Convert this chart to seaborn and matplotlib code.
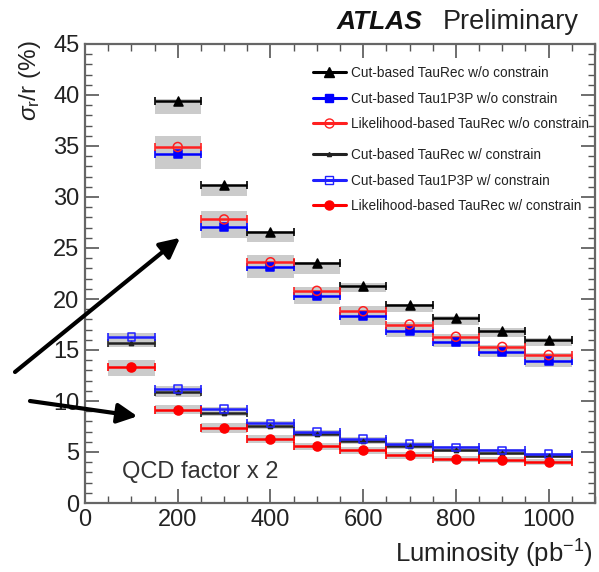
import numpy as np
import pandas as pd
import matplotlib
matplotlib.use("Agg")
import matplotlib.pyplot as plt
from matplotlib.lines import Line2D
from matplotlib.ticker import MultipleLocator
import seaborn as sns

# ---- data -------------------------------------------------------------
lumi_wo = [200, 300, 400, 500, 600, 700, 800, 900, 1000]
lumi_w = [100, 200, 300, 400, 500, 600, 700, 800, 900, 1000]
bin_half_width = 50

# without constraint
cut_taurec_wo = [39.4, 31.2, 26.6, 23.5, 21.3, 19.4, 18.1, 16.9, 16.0]
cut_tau1p3p_wo = [34.2, 27.1, 23.1, 20.3, 18.3, 16.9, 15.8, 14.8, 13.9]
lh_taurec_wo = [34.9, 27.8, 23.6, 20.8, 18.8, 17.5, 16.3, 15.3, 14.5]

# with constraint
cut_taurec_w = [15.7, 10.9, 8.8, 7.55, 6.75, 6.05, 5.55, 5.2, 4.95, 4.65]
cut_tau1p3p_w = [16.3, 11.2, 9.2, 7.8, 7.0, 6.3, 5.8, 5.45, 5.15, 4.8]
lh_taurec_w = [13.3, 9.1, 7.4, 6.3, 5.6, 5.2, 4.7, 4.3, 4.25, 4.0]

# systematic bands (low, high)
band_cut_taurec_wo_lo = [38.1, 30.1, 25.6, 22.5, 20.7, 18.7, 17.5, 16.3, 15.4]
band_cut_taurec_wo_hi = [39.6, 31.1, 26.7, 23.6, 21.6, 19.5, 18.3, 17.2, 16.2]
band_tau_wo_lo = [32.7, 26.0, 22.1, 19.5, 17.5, 16.3, 15.25, 14.3, 13.3]
band_tau_wo_hi = [36.0, 28.6, 24.3, 21.2, 19.3, 17.7, 16.6, 15.5, 14.7]
band_cut_w_lo = [15.25, 10.4, 8.5, 7.3, 6.5, 5.8, 5.3, 5.0, 4.75, 4.45]
band_cut_w_hi = [16.7, 11.5, 9.45, 8.0, 7.2, 6.5, 6.0, 5.6, 5.3, 4.95]
band_lh_w_lo = [12.5, 8.7, 6.9, 5.9, 5.2, 4.8, 4.35, 4.0, 3.95, 3.7]
band_lh_w_hi = [14.0, 9.6, 7.8, 6.7, 5.9, 5.5, 5.0, 4.6, 4.55, 4.3]

x_ticks = [0, 200, 400, 600, 800, 1000]
y_ticks = [0, 5, 10, 15, 20, 25, 30, 35, 40, 45]

labels = [
    "Cut-based TauRec w/o constrain",
    "Cut-based Tau1P3P w/o constrain",
    "Likelihood-based TauRec w/o constrain",
    "Cut-based TauRec w/ constrain",
    "Cut-based Tau1P3P w/ constrain",
    "Likelihood-based TauRec w/ constrain",
]

# ---- styling -----------------------------------------------------------
sns.set_theme(style="ticks")
plt.rcParams["font.family"] = ["Liberation Sans", "DejaVu Sans"]
plt.rcParams["mathtext.fontset"] = "custom"
plt.rcParams["mathtext.rm"] = "Liberation Sans"
plt.rcParams["mathtext.it"] = "Liberation Sans:italic"

fig = plt.figure(figsize=(5.99, 5.72), dpi=100)
ax = fig.add_axes([85 / 599, 1 - 503 / 572, 510 / 599, (503 - 44) / 572])

band_color = "#cbcbcb"

def draw_band(x, lo, hi):
    x = np.asarray(x, float)
    lo = np.asarray(lo, float)
    hi = np.asarray(hi, float)
    ax.bar(x, hi - lo, bottom=lo, width=2 * bin_half_width,
           color=band_color, edgecolor="none", zorder=1)

draw_band(lumi_wo, band_cut_taurec_wo_lo, band_cut_taurec_wo_hi)
draw_band(lumi_wo, band_tau_wo_lo, band_tau_wo_hi)
draw_band(lumi_w, band_cut_w_lo, band_cut_w_hi)
draw_band(lumi_w, band_lh_w_lo, band_lh_w_hi)

# x, y, colour, marker, face colour, marker size (pt)
series = [
    (lumi_wo, cut_taurec_wo, "black", "^", "black", 6.5),
    (lumi_wo, cut_tau1p3p_wo, "#0000ff", "s", "#0000ff", 6.0),
    (lumi_wo, lh_taurec_wo, "#ff2020", "o", "none", 6.5),
    (lumi_w, cut_taurec_w, "#222222", "^", "#222222", 3.0),
    (lumi_w, cut_tau1p3p_w, "#2020ff", "s", "none", 5.5),
    (lumi_w, lh_taurec_w, "#ff0000", "o", "#ff0000", 6.5),
]

rows = []
for (xs, ys, col, mk, fc, ms), lab in zip(series, labels):
    ax.errorbar(xs, ys, xerr=bin_half_width, fmt="none", ecolor=col,
                elinewidth=1.8, capsize=3, capthick=1.2, zorder=3)
    for xv, yv in zip(xs, ys):
        rows.append({"lumi": xv, "sigma": yv, "series": lab})

df = pd.DataFrame(rows)
for (xs, ys, col, mk, fc, ms), lab in zip(series, labels):
    sub = df[df["series"] == lab]
    sns.scatterplot(data=sub, x="lumi", y="sigma", ax=ax, marker=mk,
                    s=ms ** 2, color=col if fc != "none" else "none",
                    edgecolor=col, linewidth=1.1, zorder=4, legend=False)

# ---- axes -------------------------------------------------------------
ax.set_xlim(0, 1100)
ax.set_ylim(0, 45)
ax.set_xticks(x_ticks)
ax.set_yticks(y_ticks)
ax.xaxis.set_minor_locator(MultipleLocator(50))
ax.yaxis.set_minor_locator(MultipleLocator(1))
ax.tick_params(which="both", direction="in", top=True, right=True,
               color="#555555", labelsize=17, pad=4, labelcolor="#222222")
ax.tick_params(which="major", length=10, width=1.2)
ax.tick_params(which="minor", length=5, width=1.0)
for sp in ax.spines.values():
    sp.set_color("#666666")
    sp.set_linewidth(1.6)
ax.set_xlabel("")
ax.set_ylabel("")

fig.text(593 / 599, 1 - 563 / 572, r"Luminosity (pb$^{\mathregular{-1}}$)",
         ha="right", va="baseline", fontsize=18.5, color="#222222")
fig.text(30 / 599, 1 - 40 / 572, r"$\sigma_{\mathregular{r}}$/r (%)",
         rotation=90, ha="center", va="top", fontsize=17.5, color="#222222")
fig.text(422 / 599, 1 - 29 / 572, "ATLAS", ha="right", va="baseline",
         fontsize=19, fontweight="bold", fontstyle="italic", color="#111111")
fig.text(443 / 599, 1 - 29 / 572, "Preliminary", ha="left", va="baseline",
         fontsize=19.5, color="#222222")
ax.text(80, 3.0, "QCD factor x 2", ha="left", va="center", fontsize=17,
        color="#333333")

# ---- legends ------------------------------------------------------------
handles = []
for (xs, ys, col, mk, fc, ms), lab in zip(series, labels):
    handles.append(Line2D([], [], color=col, lw=2.2, marker=mk,
                          markersize=ms, markerfacecolor=fc,
                          markeredgecolor=col))
leg_kw = dict(frameon=False, fontsize=9.8, handlelength=2.4,
              handletextpad=0.4, borderpad=0, borderaxespad=0,
              labelspacing=0.85, loc="upper left", labelcolor="#222222")
leg1 = ax.legend(handles[:3], labels[:3],
                 bbox_to_anchor=((313 - 85) / 510, (503 - 66) / 459), **leg_kw)
ax.add_artist(leg1)
ax.legend(handles[3:], labels[3:],
          bbox_to_anchor=((313 - 85) / 510, (503 - 148) / 459), **leg_kw)

# ---- arrows pointing at the two groups ------------------------------------
arrow_kw = dict(arrowstyle="-|>,head_length=1.0,head_width=0.5",
                color="black", lw=3.0, shrinkA=0, shrinkB=0)
ax.annotate("", xy=(205, 26.0), xycoords="data",
            xytext=(15 / 599, 1 - 372 / 572), textcoords="figure fraction",
            arrowprops=arrow_kw, annotation_clip=False)
ax.annotate("", xy=(113, 8.5), xycoords="data",
            xytext=(30 / 599, 1 - 401 / 572), textcoords="figure fraction",
            arrowprops=arrow_kw, annotation_clip=False)

fig.savefig("out.png", dpi=100)
